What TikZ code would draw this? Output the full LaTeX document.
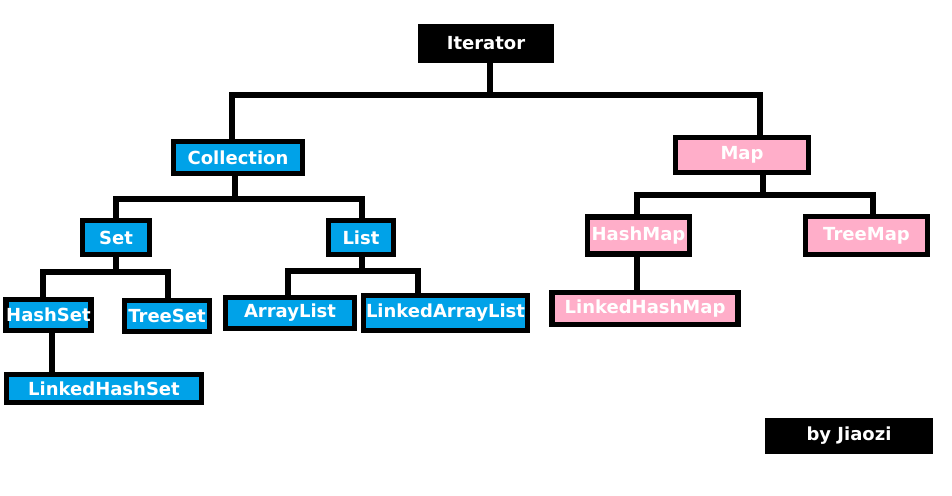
\documentclass[tikz,border=0pt]{standalone}
\usepackage{fontspec}
\setmainfont{DejaVu Sans}
\usepackage{tikz}
\usetikzlibrary{calc,
                positioning}

\definecolor{paintblue}{HTML}{00A2E8}
\definecolor{paintpink}{HTML}{FFAEC9}

\begin{document}
\begin{tikzpicture}[x=1pt, y=-1pt,
                    box/.style={draw=black, line width=5.5pt, inner sep=0pt, text=white,
                                font=\bfseries\fontsize{18}{21}\selectfont},
                    bluebox/.style={box, fill=paintblue},
                    pinkbox/.style={box, fill=paintpink},
                    blackbox/.style={fill=black, inner sep=0pt, text=white,
                                     font=\bfseries\fontsize{18}{21}\selectfont},
                    link/.style={line width=5.5pt, black}
                    ]
    \useasboundingbox (0,0) rectangle (952,495);

    % ROOT %
    \node[blackbox, minimum width=136pt, minimum height=39pt] at (486,43.5) (It){Iterator};

    % COLLECTION SIDE %
    \node[bluebox, minimum width=129pt, minimum height=32pt] at (238,157.5) (Col){Collection};
    \node[bluebox, minimum width=67pt, minimum height=34pt] at (116,237.5) (Set){Set};
    \node[bluebox, minimum width=65pt, minimum height=34pt] at (361,237.5) (List){List};
    \node[bluebox, minimum width=84pt, minimum height=31pt] at (48.5,315) (HSet){HashSet};
    \node[bluebox, minimum width=85pt, minimum height=31pt] at (167,316) (TSet){TreeSet};
    \node[bluebox, minimum width=195pt, minimum height=28pt] at (104,388.5) (LHSet){LinkedHashSet};
    \node[bluebox, minimum width=129pt, minimum height=31pt] at (290,313) (AList){ArrayList};
    \node[bluebox, minimum width=164pt, minimum height=35pt] at (445.5,313) (LAList){LinkedArrayList};

    % MAP SIDE %
    \node[pinkbox, minimum width=133pt, minimum height=35pt] at (742,155) (Map){Map};
    \node[pinkbox, minimum width=102pt, minimum height=37pt] at (638.5,235.5) (HMap){HashMap};
    \node[pinkbox, minimum width=122pt, minimum height=38pt] at (866.5,235.5) (TMap){TreeMap};
    \node[pinkbox, minimum width=186pt, minimum height=32pt] at (645,308.5) (LHMap){LinkedHashMap};

    % SIGNATURE %
    \node[blackbox, minimum width=168pt, minimum height=36pt] at (849,436) (Sig){by Jiaozi};

    % JUNCTION LEVELS %
    \coordinate (jIt) at (0,95);
    \coordinate (jCol) at (0,199);
    \coordinate (jSet) at (0,272);
    \coordinate (jList) at (0,271);
    \coordinate (jMap) at (0,195);

    % BRANCHES %
    \foreach \p/\px/\c/\cx/\j in {It/4/Col/-6/jIt, It/4/Map/18/jIt,
                                  Col/-3/Set/0/jCol, Col/-3/List/1/jCol,
                                  Set/0/HSet/-5.5/jSet, Set/0/TSet/1/jSet,
                                  List/1/AList/-2/jList, List/1/LAList/-27.5/jList,
                                  Map/21/HMap/-1.5/jMap, Map/21/TMap/6.5/jMap}
    \draw[link] ([xshift=\px pt]\p.south) |- ([xshift=\cx pt]\c.north |- \j) -- ([xshift=\cx pt]\c.north);

    % SINGLE CHILDREN %
    \draw[link] ([xshift=3.5pt]HSet.south) -- ([xshift=3.5pt]HSet.south |- LHSet.north);
    \draw[link] ([xshift=-1.5pt]HMap.south) -- ([xshift=-1.5pt]HMap.south |- LHMap.north);

\end{tikzpicture}
\end{document}
